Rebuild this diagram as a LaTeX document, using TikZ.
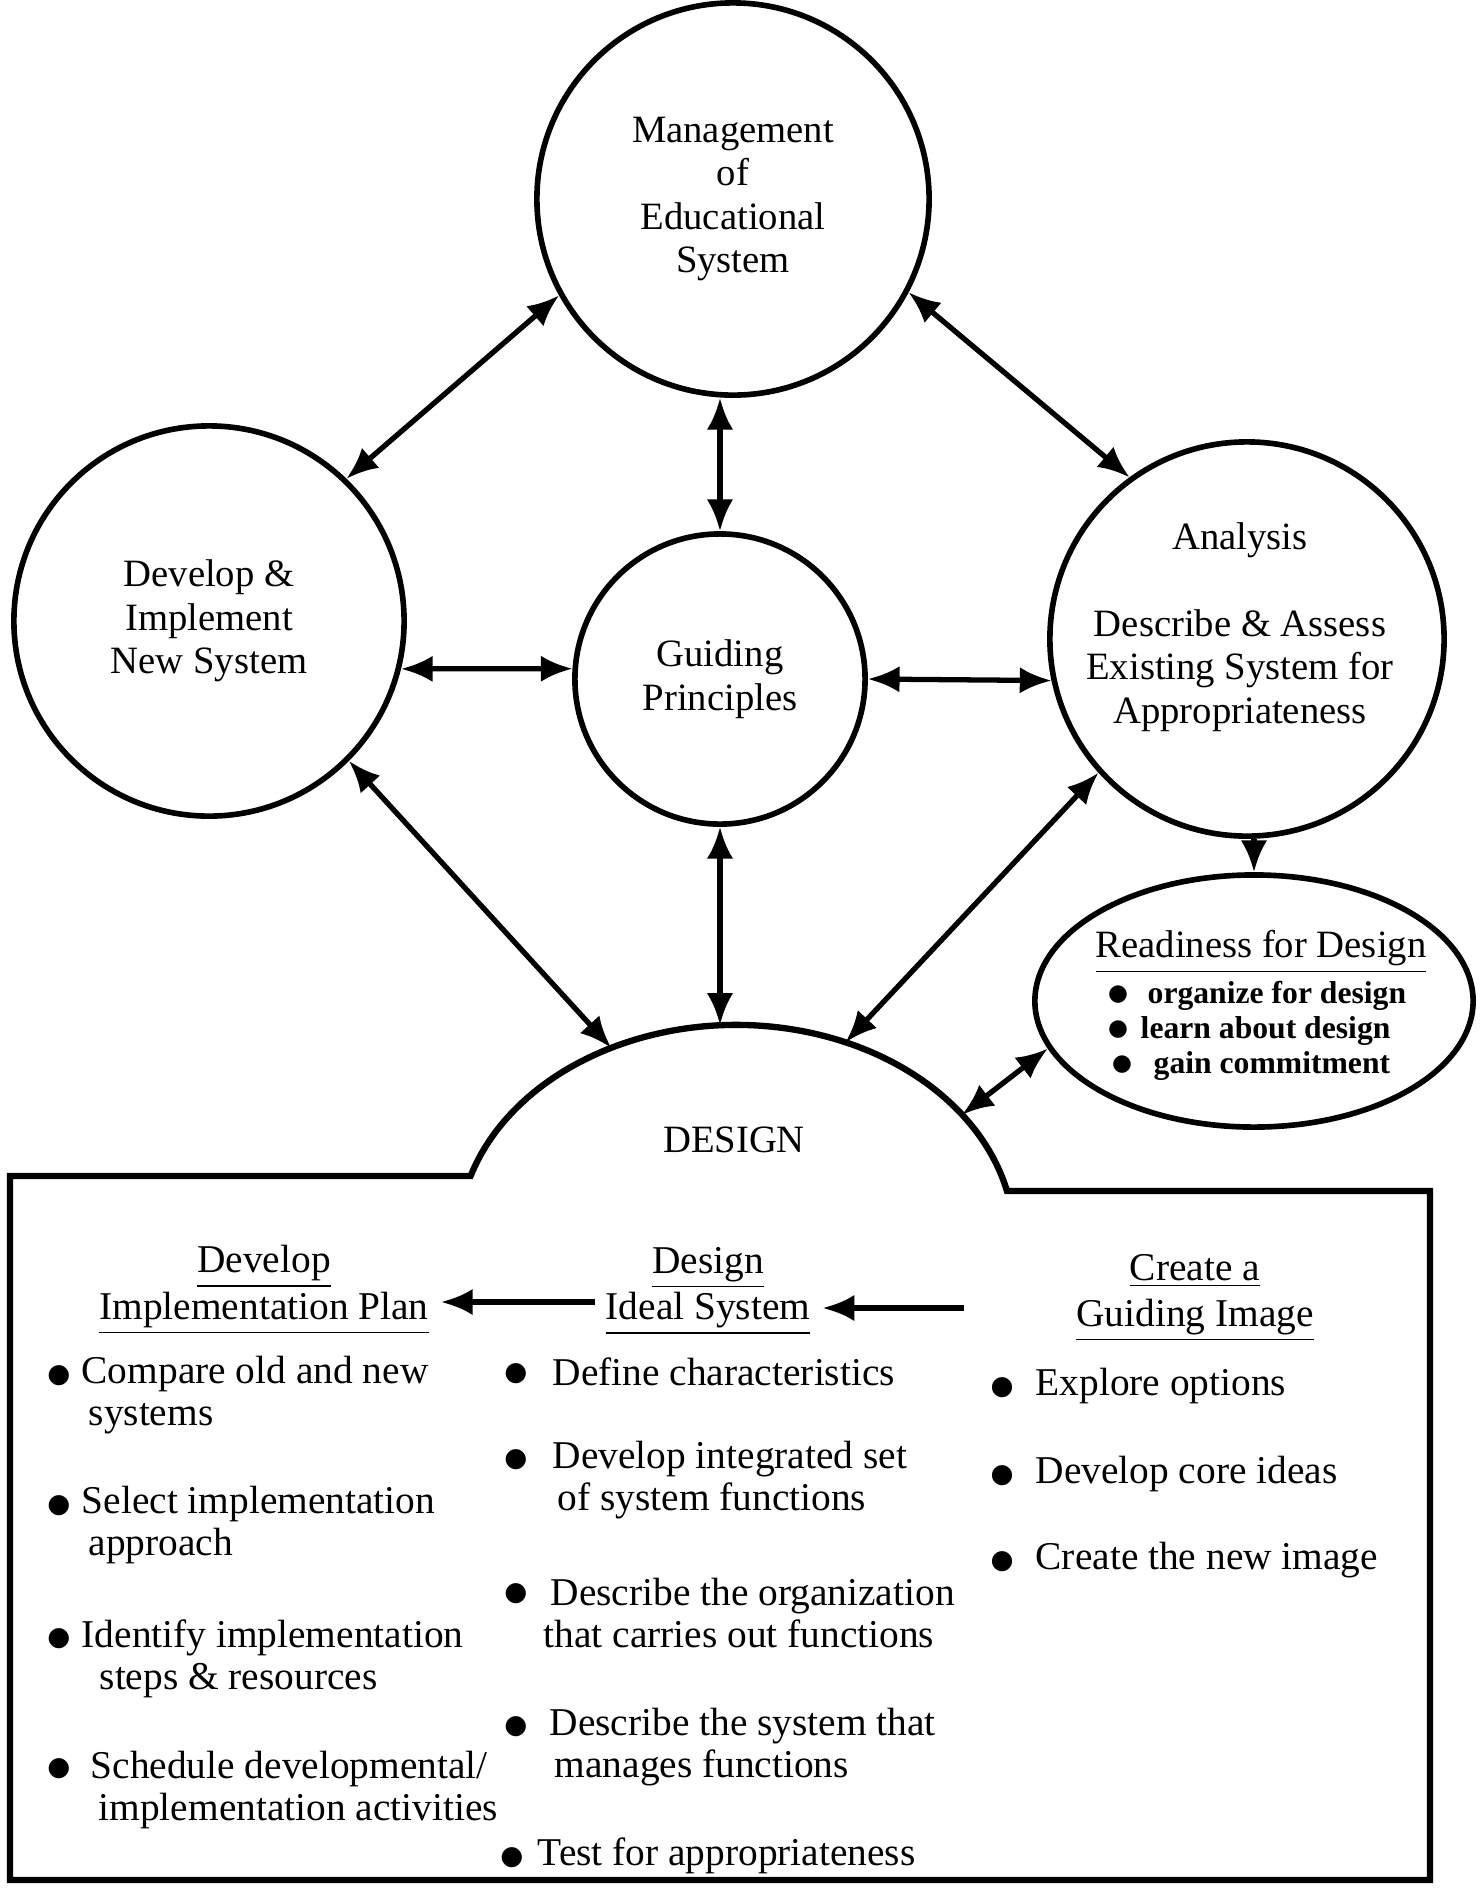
\documentclass[tikz,border=0pt]{standalone}
\usepackage{fontspec}
\setmainfont{Liberation Serif}
\newfontfamily\dotfont{DejaVu Sans}
\usetikzlibrary{positioning,shapes.geometric,arrows.meta}

\newcommand{\bodyfont}{\fontsize{11.2}{12}\selectfont}
\newcommand{\circfont}{\fontsize{11}{12.4}\selectfont}
\newcommand{\listfont}{\fontsize{9}{10}\bfseries\selectfont}

\begin{document}
\begin{tikzpicture}[
  x=0.01cm, y=0.01cm,
  >={Latex[length=9pt,width=7.5pt]},
  bigc/.style={draw,circle,line width=1.6pt,align=center,font=\circfont,inner sep=0pt},
  link/.style={<->,line width=1.5pt},
  oneway/.style={->,line width=1.5pt},
  hd/.style={align=center,font=\bodyfont},
  bul/.style={font=\dotfont\fontsize{7.5}{8}\selectfont,inner sep=0pt},
  smallbul/.style={font=\dotfont\fontsize{6.5}{7}\selectfont,inner sep=0pt},
  itm/.style={anchor=west,align=left,font=\bodyfont,inner sep=0pt},
  rditm/.style={anchor=west,font=\listfont,inner sep=0pt}
]

\useasboundingbox (0,0) rectangle (1483,-1896);

% circles
\node[bigc,minimum size=3.92cm] (mgmt) at (733,-199) {Management\\of\\Educational\\System};
\node[bigc,minimum size=3.9cm] (dev) at (209,-621) {Develop \&\\Implement\\New System};
\node[bigc,minimum size=2.9cm] (guide) at (720,-679) {Guiding\\Principles};
\node[bigc,minimum size=3.94cm] (anal) at (1247,-639) {};
\node[align=center,font=\circfont] (analtxt) at (1240,-627) {Analysis\\[12.4pt]Describe \& Assess\\Existing System for\\Appropriateness};

% readiness
\node[draw,ellipse,line width=1.6pt,minimum width=4.38cm,minimum height=2.52cm] (ready) at (1254,-1001) {};
\node[font=\circfont,inner sep=0pt] (readyhd) at (1261,-952) {\underline{Readiness for Design}};
\node[smallbul] (rb1) at (1118,-995) {●};
\node[rditm] (r1) at (1147,-996) {organize for design};
\node[smallbul] (rb2) at (1118,-1030) {●};
\node[rditm] (r2) at (1140,-1031) {learn about design};
\node[smallbul] (rb3) at (1122,-1065) {●};
\node[rditm] (r3) at (1153,-1066) {gain commitment};

% design dome and box
\node[ellipse,minimum width=5.56cm,minimum height=4.3cm,inner sep=0pt,outer sep=0pt] (design) at (736,-1240) {};
\node[font=\circfont] (designtxt) at (734,-1140) {DESIGN};
\draw[line width=1.8pt] (10,-1176) -- (470.6,-1176)
  arc[start angle=162.68,end angle=13.17,x radius=2.78cm,y radius=2.15cm]
  -- (1430,-1191) -- (1430,-1880) -- (10,-1880) -- cycle;

\path
% around the guiding principles
(mgmt.209.7) edge[link] (dev.46)
(mgmt.332) edge[link] (anal.126.8)
(guide.north) edge[link] (guide.north |- mgmt.south)
(dev.346) edge[link] (guide.176)
(guide.east) edge[link] (anal.192)

% into design
(dev.315) edge[link] (design.123.35)
(anal.222.3) edge[link] (design.61.37)
(guide.south) edge[link] (guide.south |- design.north)
(ready.193.5) edge[link] (design.29.66)
(anal.south -| ready.north) edge[oneway] (ready.north)
;

% design phases
\node[hd] (implhd) at (264,-1290) {\underline{Develop}\\\underline{Implementation Plan}};
\node[hd] (idealhd) at (708,-1291) {\underline{Design}\\\underline{Ideal System}};
\node[hd] (imagehd) at (1195,-1298) {\underline{Create a}\\[1pt]\underline{Guiding Image}};

\coordinate (a1) at (595,-1302);
\coordinate (a2) at (964,-1308);
\draw[oneway] (a1) -- (a1 -| implhd.east);
\draw[oneway] (a2) -- (a2 -| idealhd.east);

% implementation plan
\node[bul] (b11) at (59,-1376) {●};
\node[itm] (i11) at (81,-1395) {Compare old and new\\\hspace*{0.7mm}systems};
\node[bul] (b12) at (59,-1506) {●};
\node[itm] (i12) at (81,-1525) {Select implementation\\\hspace*{0.7mm}approach};
\node[bul] (b13) at (59,-1639) {●};
\node[itm] (i13) at (81,-1659) {Identify implementation\\\hspace*{1.8mm}steps \& resources};
\node[bul] (b14) at (59,-1769) {●};
\node[itm] (i14) at (90,-1790) {Schedule developmental/\\\hspace*{0.8mm}implementation activities};

% ideal system
\node[bul] (b21) at (516,-1374) {●};
\node[itm] (i21) at (552,-1372) {Define characteristics};
\node[bul] (b22) at (516,-1460) {●};
\node[itm] (i22) at (552,-1480) {Develop integrated set\\\hspace*{0.5mm}of system functions};
\node[bul] (b23) at (516,-1594) {●};
\node[itm] (i23) at (543,-1613) {\hspace*{0.7mm}Describe the organization\\that carries out functions};
\node[bul] (b24) at (516,-1727) {●};
\node[itm] (i24) at (549,-1747) {Describe the system that\\\hspace*{0.5mm}manages functions};
\node[bul] (b25) at (512,-1858) {●};
\node[itm] (i25) at (537,-1856) {Test for appropriateness};

% guiding image
\node[bul] (b31) at (1002,-1388) {●};
\node[itm] (i31) at (1035,-1386) {Explore options};
\node[bul] (b32) at (1002,-1476) {●};
\node[itm] (i32) at (1035,-1474) {Develop core ideas};
\node[bul] (b33) at (1002,-1562) {●};
\node[itm] (i33) at (1035,-1560) {Create the new image};

\end{tikzpicture}
\end{document}
